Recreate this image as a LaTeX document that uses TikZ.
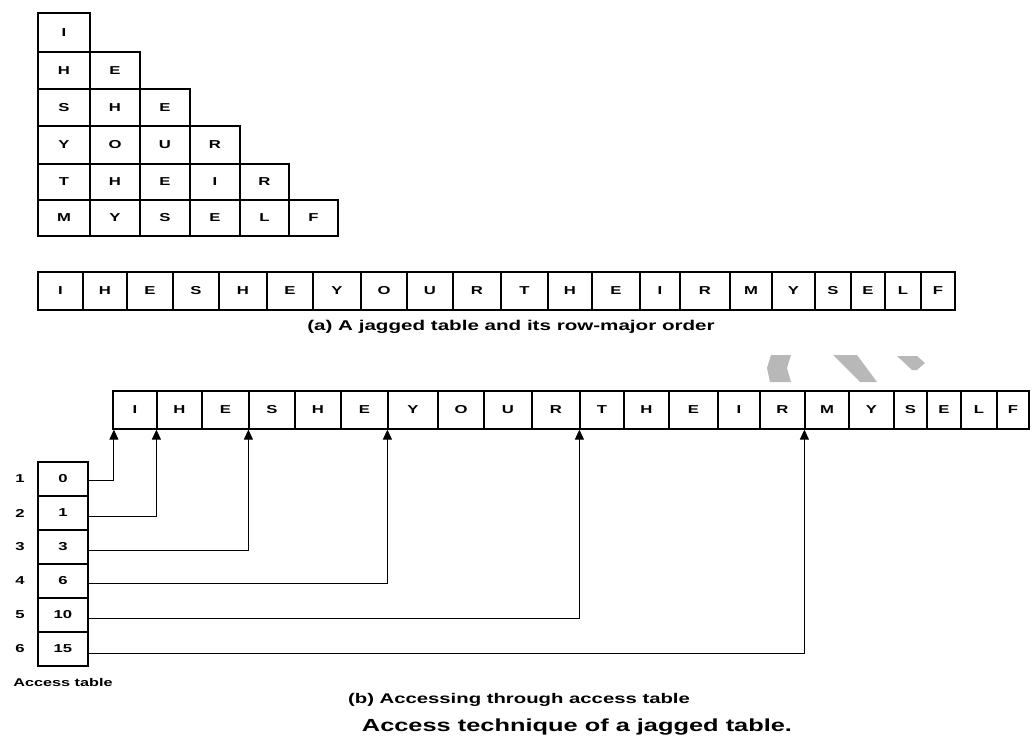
\documentclass[tikz,border=0pt]{standalone}
\usepackage{fontspec}
\setmainfont{Liberation Sans}
\newfontfamily\wfont[FakeStretch=1.45]{Liberation Sans}
\usetikzlibrary{arrows.meta}
\tikzset{
  txt/.style={font=\wfont\bfseries\fontsize{#1}{#1}\selectfont, inner sep=0pt},
  cell/.style={draw, line width=1.2pt, inner sep=0pt, anchor=center, txt=11.5},
  conn/.style={line width=1pt, -{Triangle[width=9pt,length=10pt]}},
  wmark/.style={fill=black!28, draw=none}
}
\begin{document}
\begin{tikzpicture}[x=1pt,y=-1pt]
\useasboundingbox (0,0) rectangle (1034,747);
% jagged table
\foreach \r/\word in {1/{I},2/{H,E},3/{S,H,E},4/{Y,O,U,R},5/{T,H,E,I,R},6/{M,Y,S,E,L,F}}{
  \foreach \l [count=\c] in \word {
    \pgfmathsetmacro\xa{{38,90,140,190,240,289,338}[\c-1]}
    \pgfmathsetmacro\xb{{38,90,140,190,240,289,338}[\c]}
    \pgfmathsetmacro\ya{{13,52,89,126,164,200,236}[\r-1]}
    \pgfmathsetmacro\yb{{13,52,89,126,164,200,236}[\r]}
    \pgfmathsetmacro\w{\xb-\xa}
    \pgfmathsetmacro\h{\yb-\ya}
    \node[cell, minimum width=\w pt, minimum height=\h pt] (j\r\c) at ({(\xa+\xb)/2},{(\ya+\yb)/2}) {\l};
  }
}
% row-major array
\foreach \a/\b/\l [count=\i] in {38/83/I,83/127/H,127/173/E,173/219/S,219/267/H,267/313/E,313/361/Y,361/407/O,407/453/U,453/501/R,501/548/T,548/592/H,592/640/E,640/680/I,680/730/R,730/772/M,772/815/Y,815/851/S,851/885/E,885/921/L,921/955/F}{
  \pgfmathsetmacro\w{\b-\a}
  \node[cell, minimum width=\w pt, minimum height=38pt] (t\i) at ({(\a+\b)/2},291) {\l};
}
\node[txt=14.2] (capa) at (511,327) {(a) A jagged table and its row-major order};
% watermark fragments
\fill[wmark] (771,355) -- (791,355) -- (787,368) -- (791,382) -- (770,382) -- (767,368) -- cycle;
\fill[wmark] (833,355) -- (857,355) -- (877,382) -- (860,382) -- cycle;
\fill[wmark] (897,356) -- (917,356) -- (925,363) -- (917,370) -- (912,370) -- cycle;
% bottom array
\foreach \a/\b/\l [count=\i] in {113/157/I,157/202/H,202/249/E,249/295/S,295/341/H,341/388/E,388/438/Y,438/484/O,484/532/U,532/580/R,580/624/T,624/669/H,669/718/E,718/760/I,760/805/R,805/849/M,849/894/Y,894/927/S,927/961/E,961/997/L,997/1029/F}{
  \pgfmathsetmacro\w{\b-\a}
  \node[cell, minimum width=\w pt, minimum height=38pt] (b\i) at ({(\a+\b)/2},410) {\l};
}
% access table
\foreach \v [count=\i] in {0,1,3,6,10,15}{
  \pgfmathsetmacro\yc{462+34*(\i-1)+17}
  \node[cell, minimum width=50pt, minimum height=34pt] (a\i) at (63,\yc) {\v};
  \node[txt=11.5] (n\i) at (20,\yc) {\i};
}
\node[txt=11.2] (acc) at (63,682) {Access table};
% connectors
\draw[conn] ([yshift=-1pt]a1.east) -| ([xshift=1.5pt]b1.south west);
\draw[conn] ([yshift=-3pt]a2.east) -| (b2.south west);
\draw[conn] ([yshift=-3pt]a3.east) -| (b4.south west);
\draw[conn] ([yshift=-2pt]a4.east) -| (b7.south west);
\draw[conn] ([yshift=-3pt]a5.east) -| (b11.south west);
\draw[conn] ([yshift=-4pt]a6.east) -| (b16.south west);
\node[txt=14] (capb) at (519,700) {(b) Accessing through access table};
\node[txt=17.5] (title) at (577,727) {Access technique of a jagged table.};
\end{tikzpicture}
\end{document}
